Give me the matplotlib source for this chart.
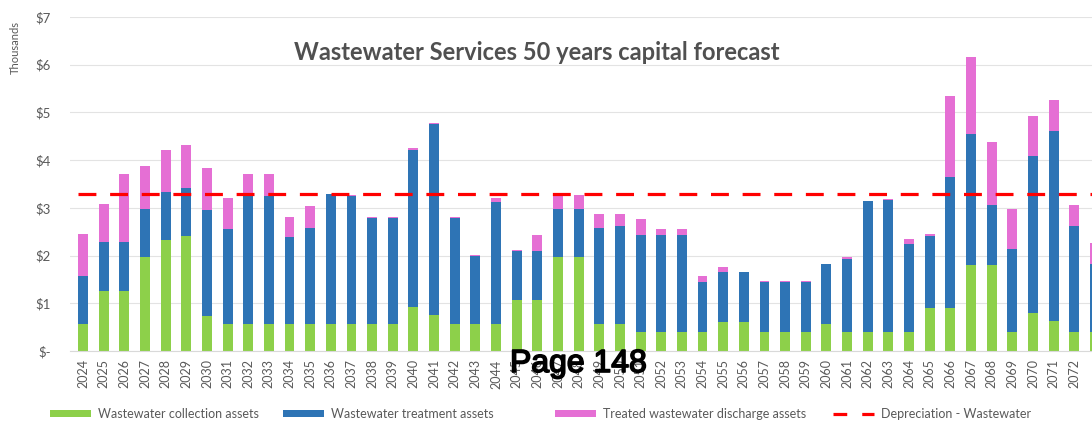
import matplotlib.pyplot as plt
from matplotlib.patches import Patch
from matplotlib.lines import Line2D
import matplotlib.patheffects as pe

plt.rcParams['font.family'] = ['Lato', 'DejaVu Sans']

# forecast years and capital spend by asset group ($ thousands)
years = list(range(2024, 2074))
collection = [0.57, 1.26, 1.26, 1.97, 2.33, 2.41, 0.74, 0.57, 0.57, 0.57,
              0.57, 0.57, 0.57, 0.57, 0.57, 0.57, 0.92, 0.75, 0.57, 0.57,
              0.57, 1.07, 1.07, 1.97, 1.97, 0.57, 0.57, 0.40, 0.40, 0.40,
              0.40, 0.61, 0.61, 0.40, 0.40, 0.40, 0.57, 0.40, 0.40, 0.40,
              0.40, 0.91, 0.91, 1.81, 1.81, 0.40, 0.79, 0.62, 0.40, 0.40]
treatment = [1.01, 1.03, 1.03, 1.01, 1.01, 1.01, 2.22, 1.99, 2.73, 2.68,
             1.82, 2.00, 2.71, 2.67, 2.21, 2.21, 3.30, 4.00, 2.21, 1.43,
             2.55, 1.02, 1.02, 1.01, 1.01, 2.00, 2.04, 2.03, 2.03, 2.03,
             1.04, 1.04, 1.04, 1.04, 1.04, 1.04, 1.25, 1.52, 2.74, 2.76,
             1.84, 1.51, 2.74, 2.74, 1.24, 1.74, 3.29, 3.99, 2.23, 1.42]
discharge = [0.88, 0.80, 1.41, 0.89, 0.88, 0.89, 0.87, 0.64, 0.41, 0.46,
             0.42, 0.46, 0.01, 0.02, 0.02, 0.02, 0.03, 0.03, 0.02, 0.01,
             0.09, 0.03, 0.34, 0.28, 0.28, 0.30, 0.26, 0.33, 0.12, 0.12,
             0.14, 0.10, 0.01, 0.02, 0.02, 0.02, 0.01, 0.05, 0.01, 0.02,
             0.10, 0.04, 1.70, 1.62, 1.33, 0.84, 0.84, 0.64, 0.42, 0.44]
depreciation = 3.30

yticks = [0, 1, 2, 3, 4, 5, 6, 7]
ytick_labels = ['$-', '$1', '$2', '$3', '$4', '$5', '$6', '$7']

c_green = '#8DD04A'
c_blue = '#2E74B5'
c_pink = '#E56FD4'
c_red = '#FF0000'
c_text = '#595959'

W, H = 1092, 423
fig = plt.figure(figsize=(W / 100, H / 100), dpi=100)
ax = fig.add_axes([70 / W, 72 / H, 1022 / W, 334 / H])

bw = 0.48
ax.bar(years, collection, bw, color=c_green, zorder=2)
ax.bar(years, treatment, bw, bottom=collection, color=c_blue, zorder=2)
base = [a + b for a, b in zip(collection, treatment)]
ax.bar(years, discharge, bw, bottom=base, color=c_pink, zorder=2)

dep_line = ax.axhline(depreciation, xmin=0.008, color=c_red, lw=2.3, zorder=3)
dep_line.set_dashes((5.6, 4.3))

ax.set_xlim(2023.37, 2072.86)
ax.set_ylim(0, 7)
ax.set_yticks(yticks)
ax.set_yticklabels(ytick_labels, color=c_text, fontsize=9.5)
ax.set_xticks(years[:-1])
ax.set_xticklabels([str(y) for y in years[:-1]], rotation=90,
                   color=c_text, fontsize=9)
ax.tick_params(axis='both', length=0)
ax.tick_params(axis='y', pad=14)
ax.tick_params(axis='x', pad=6)
ax.grid(axis='y', color='#E3E3E3', lw=0.8, zorder=0)
for s in ['top', 'right', 'left']:
    ax.spines[s].set_visible(False)
ax.spines['bottom'].set_color('#D9D9D9')

fig.text(15 / W, 1 - 48 / H, 'Thousands', rotation=90, ha='center',
         va='center', color=c_text, fontsize=8)
fig.text(537 / W, 1 - 52 / H, 'Wastewater Services 50 years capital forecast',
         ha='center', va='center', color='#505050', fontsize=17,
         fontweight='bold')

# legend entries laid out along the bottom
entries = [
    (50, Patch(facecolor=c_green), 'Wastewater collection assets'),
    (283, Patch(facecolor=c_blue), 'Wastewater treatment assets'),
    (555, Patch(facecolor=c_pink), 'Treated wastewater discharge assets'),
    (833, Line2D([], [], color=c_red, lw=2.3, dashes=(4.3, 4.7)),
     'Depreciation - Wastewater'),
]
for x0, handle, label in entries:
    fig.legend([handle], [label], loc='center left',
               bbox_to_anchor=(x0 / W, 1 - 414 / H), frameon=False,
               fontsize=9, labelcolor=c_text, borderpad=0,
               borderaxespad=0, handlelength=3.3, handleheight=0.45,
               handletextpad=0.55)

# page stamp printed over the axis
fig.text(510 / W, 1 - 364 / H, 'Page 148', ha='left', va='center',
         fontsize=23, color='black', family='Liberation Sans',
         path_effects=[pe.withStroke(linewidth=1.2, foreground='black')])

fig.savefig('out.png', dpi=100, facecolor='white')
